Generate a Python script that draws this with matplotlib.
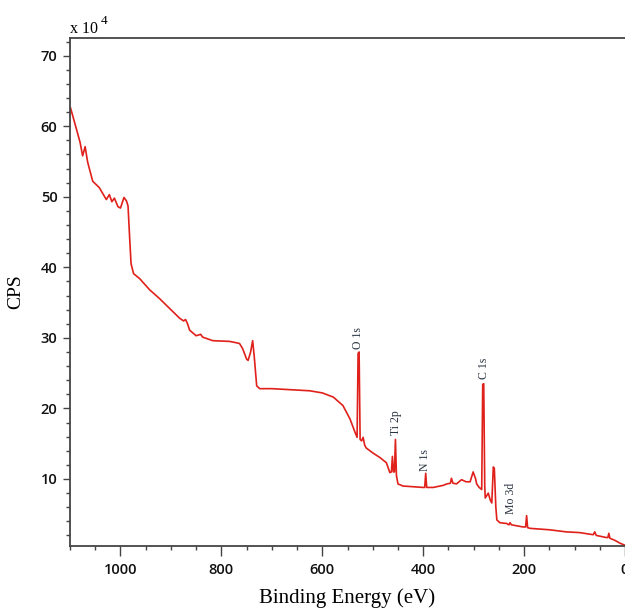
import matplotlib
matplotlib.use("Agg")
import matplotlib.pyplot as plt
from matplotlib.ticker import MultipleLocator

# Binding energy (eV) and CPS (x 10^4)
energy = [1099, 1090, 1080, 1075, 1070, 1065, 1055, 1042, 1028, 1022, 1017, 1012,
          1005, 1000, 993, 988, 985, 982, 979, 974, 962, 942, 923, 903, 883, 875,
          871, 867, 863, 850, 841, 837, 817, 784, 770, 764, 758, 750, 747, 742,
          738, 735, 730, 724, 700, 650, 625, 600, 578, 559, 545, 535, 531, 529,
          527, 525, 522, 519, 516, 513, 500, 485, 473, 466, 463, 461, 459, 457,
          455, 453, 450, 440, 420, 400, 397, 395, 393, 380, 360, 353, 346, 344,
          341, 334, 324, 315, 307, 301, 296, 294, 289, 284, 282, 280, 278, 277,
          271, 267, 264, 261, 259, 256, 254, 248, 235, 230, 228, 225, 202, 197,
          195, 193, 188, 150, 116, 90, 63, 60, 57, 37, 34, 32, 30, 20, 10, 0]
cps = [62.6, 60.3, 57.7, 55.8, 57.1, 54.9, 52.2, 51.3, 49.6, 50.3, 49.3, 49.8,
       48.6, 48.4, 49.9, 49.4, 48.7, 44.5, 40.5, 39.1, 38.4, 36.8, 35.6, 34.2,
       32.8, 32.4, 32.6, 32.0, 31.1, 30.3, 30.5, 30.1, 29.6, 29.5, 29.3, 29.2,
       28.5, 27.0, 26.8, 28.0, 29.6, 27.5, 23.2, 22.8, 22.8, 22.6, 22.5, 22.2,
       21.6, 20.4, 18.5, 16.6, 15.9, 27.8, 28.0, 15.6, 15.4, 15.9, 14.8, 14.4,
       13.7, 13.0, 12.3, 10.9, 11.0, 13.2, 11.0, 11.0, 15.6, 10.5, 9.3, 9.0,
       8.9, 8.8, 8.8, 10.8, 8.8, 8.8, 9.1, 9.3, 9.4, 10.1, 9.4, 9.3, 9.9, 9.6,
       9.6, 11.0, 10.0, 9.3, 8.8, 8.5, 23.4, 23.5, 9.0, 7.3, 8.0, 7.0, 6.6,
       11.7, 11.5, 6.0, 4.2, 3.8, 3.7, 3.5, 3.8, 3.5, 3.2, 3.2, 4.8, 3.1, 3.0,
       2.8, 2.5, 2.4, 2.1, 2.5, 2.0, 1.7, 1.7, 2.3, 1.6, 1.3, 0.9, 0.6]

peak_labels = ["O 1s", "Ti 2p", "N 1s", "C 1s", "Mo 3d"]
peak_x = [529, 454, 396, 279, 226]
peak_y = [28.4, 16.2, 11.2, 24.1, 5.1]

xticks = [1000, 800, 600, 400, 200, 0]
yticks = [10, 20, 30, 40, 50, 60, 70]

serif = ["Liberation Serif", "DejaVu Serif"]
sans = ["Open Sans", "DejaVu Sans"]

fig = plt.figure(figsize=(6.25, 6.10), dpi=100)
ax = fig.add_axes([70 / 625, 64 / 610, 555 / 625, 508 / 610])

ax.plot(energy, cps, color="#e0201a", lw=1.2)

ax.set_xlim(1100, 0)
ax.set_ylim(0.5, 72.5)
ax.set_xticks(xticks)
ax.set_yticks(yticks)
ax.xaxis.set_minor_locator(MultipleLocator(50))
ax.yaxis.set_minor_locator(MultipleLocator(2))

for sp in ["left", "bottom", "top"]:
    ax.spines[sp].set_color("#444444")
    ax.spines[sp].set_linewidth(1.3)
ax.spines["right"].set_visible(False)

ax.tick_params(axis="both", which="major", direction="out", length=5,
               width=1.0, color="#444444", pad=4, labelsize=10.5)
ax.tick_params(axis="both", which="minor", direction="out", length=3,
               width=1.0, color="#444444")
ax.tick_params(axis="x", which="major", length=7, pad=5)
for lab in ax.get_xticklabels() + ax.get_yticklabels():
    lab.set_fontfamily(sans)
    lab.set_fontweight("semibold")
    lab.set_color("#111111")

ax.set_xlabel("Binding Energy (eV)", fontsize=15, family=serif, labelpad=8)
ax.set_ylabel("CPS", fontsize=14, family=serif, labelpad=12)

for lbl, px, py in zip(peak_labels, peak_x, peak_y):
    ax.text(px, py, lbl, rotation=90, ha="center", va="bottom",
            fontsize=8.5, family=serif, color="#2a3340")

fig.text(70 / 625, 1 - 37 / 610, "x 10", fontsize=11.5, family=serif,
         ha="left", va="bottom")
fig.text(101 / 625, 1 - 27 / 610, "4", fontsize=9.5, family=serif,
         ha="left", va="bottom")

fig.savefig("out.png", dpi=100)
